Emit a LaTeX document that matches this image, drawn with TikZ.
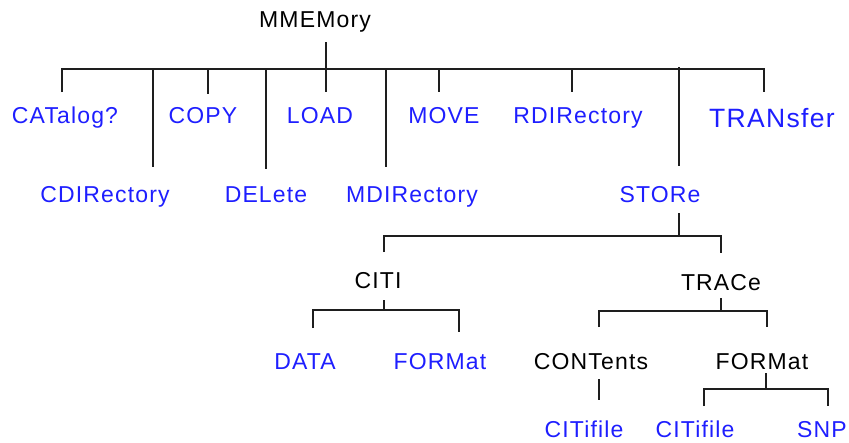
\documentclass[tikz,border=0pt]{standalone}
\usepackage{fontspec}
\setmainfont[LetterSpace=5]{Liberation Sans}
\definecolor{cmdblue}{RGB}{30,30,255}
\definecolor{linegray}{RGB}{30,30,30}
\begin{document}
\begin{tikzpicture}[x=1pt,y=-1pt,
  lbl/.style={inner sep=0pt,anchor=base,font=\fontsize{23}{26}\selectfont},
  cmd/.style={lbl,text=cmdblue},
  grp/.style={lbl,text=black},
  conn/.style={draw=linegray,line width=1.6pt,line cap=butt}]
\useasboundingbox (0,0) rectangle (849,442);
% nodes
\node[grp] (mm) at (315,27) {MMEMory};
\node[cmd] (cat) at (65,123) {CATalog?};
\node[cmd] (copy) at (203,123) {COPY};
\node[cmd] (load) at (320,123) {LOAD};
\node[cmd] (move) at (444,123) {MOVE};
\node[cmd] (rdir) at (578,123) {RDIRectory};
\node[cmd,font=\fontsize{26.5}{30}\selectfont] (tran) at (772,127) {TRANsfer};
\node[cmd] (cdir) at (105,202) {CDIRectory};
\node[cmd] (del) at (266,202) {DELete};
\node[cmd] (mdir) at (412,202) {MDIRectory};
\node[cmd] (store) at (660,202) {STORe};
\node[grp] (citi) at (378,288) {CITI};
\node[grp] (trace) at (721,290) {TRACe};
\node[cmd] (data) at (305,369) {DATA};
\node[cmd] (cfmt) at (440,369) {FORMat};
\node[grp] (cont) at (591,369) {CONTents};
\node[grp] (tfmt) at (762,369) {FORMat};
\node[cmd] (cfile) at (584,437) {CITifile};
\node[cmd] (tfile) at (695,437) {CITifile};
\node[cmd] (snp) at (822,437) {SNP};
% coordinates: MMEMory level
\coordinate (mmA) at (326,42);
\coordinate (mmB) at (326,69);
\coordinate (barL) at (62,69);
\coordinate (barR) at (764,69);
\coordinate (catE) at (62,92);
\coordinate (cdirE) at (153,167);
\coordinate (copyE) at (208,94);
\coordinate (delE) at (266,169);
\coordinate (loadE) at (326,92);
\coordinate (mdirE) at (386,167);
\coordinate (moveE) at (439,92);
\coordinate (rdirE) at (572,92);
\coordinate (storeT) at (679,67);
\coordinate (storeE) at (679,166);
\coordinate (tranE) at (764,92);
% STORe level
\coordinate (stA) at (679,213);
\coordinate (stB) at (679,236);
\coordinate (stL) at (384,236);
\coordinate (stR) at (721,236);
\coordinate (citiE) at (384,252);
\coordinate (traceE) at (721,253);
% CITI level
\coordinate (ciA) at (384,300);
\coordinate (ciB) at (384,310);
\coordinate (ciL) at (313,310);
\coordinate (ciR) at (459,310);
\coordinate (dataE) at (313,328);
\coordinate (cfmtE) at (459,332);
% TRACe level
\coordinate (trA) at (721,298);
\coordinate (trB) at (721,311);
\coordinate (trL) at (599,311);
\coordinate (trR) at (767,311);
\coordinate (contE) at (599,327);
\coordinate (tfmtE) at (767,327);
% CONTents
\coordinate (coA) at (599,379);
\coordinate (coB) at (599,400);
% FORMat (trace)
\coordinate (tfA) at (766,373);
\coordinate (tfB) at (766,389);
\coordinate (tfL) at (704,389);
\coordinate (tfR) at (828,389);
\coordinate (tfileE) at (704,406);
\coordinate (snpE) at (828,406);
% connectors
\draw[conn] (mmA) -- (mmB);
\draw[conn] (catE) -- (barL) -- (barR) -- (tranE);
\draw[conn] (barL -| cdirE) -- (cdirE);
\draw[conn] (barL -| copyE) -- (copyE);
\draw[conn] (barL -| delE) -- (delE);
\draw[conn] (barL -| loadE) -- (loadE);
\draw[conn] (barL -| mdirE) -- (mdirE);
\draw[conn] (barL -| moveE) -- (moveE);
\draw[conn] (barL -| rdirE) -- (rdirE);
\draw[conn] (storeT) -- (storeE);
\draw[conn] (stA) -- (stB);
\draw[conn] (citiE) -- (stL) -- (stR) -- (traceE);
\draw[conn] (ciA) -- (ciB);
\draw[conn] (dataE) -- (ciL) -- (ciR) -- (cfmtE);
\draw[conn] (trA) -- (trB);
\draw[conn] (contE) -- (trL) -- (trR) -- (tfmtE);
\draw[conn] (coA) -- (coB);
\draw[conn] (tfA) -- (tfB);
\draw[conn] (tfileE) -- (tfL) -- (tfR) -- (snpE);
\end{tikzpicture}
\end{document}
